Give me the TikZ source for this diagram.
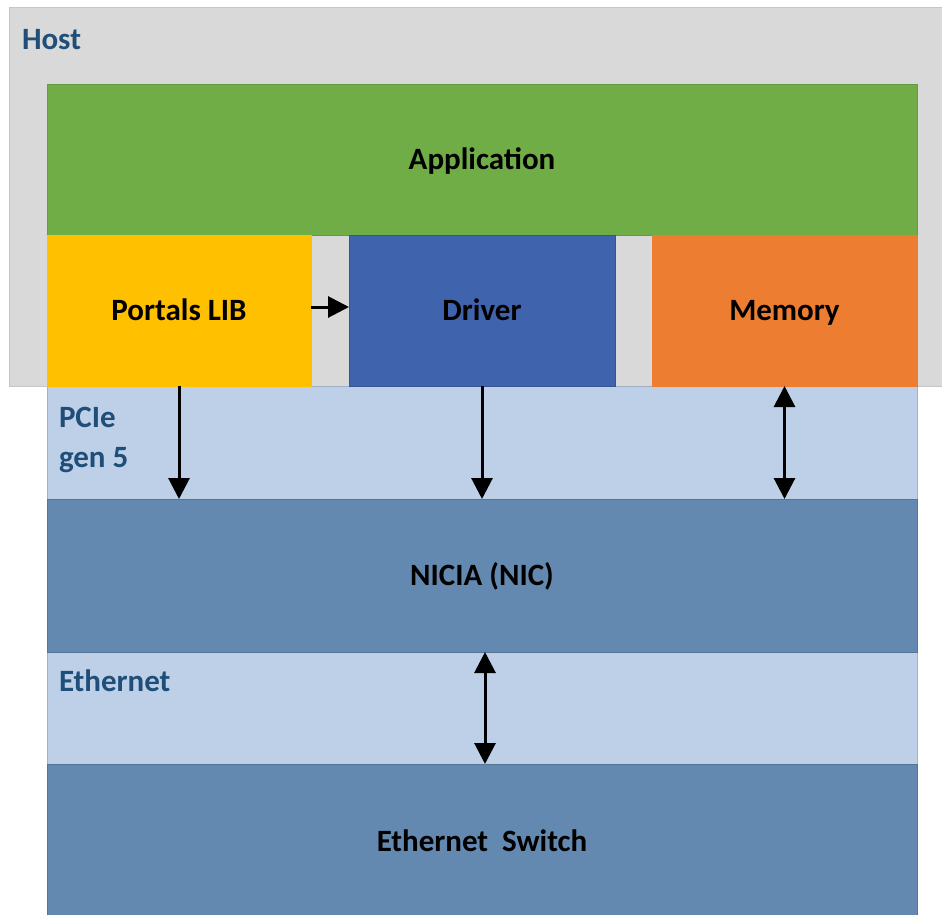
\documentclass[tikz,border=0pt]{standalone}
\usepackage{fontspec}
\setmainfont{Carlito}
\usetikzlibrary{arrows.meta}
\definecolor{hostgray}{HTML}{D9D9D9}
\definecolor{hostline}{HTML}{C6C6C6}
\definecolor{appgreen}{HTML}{70AD47}
\definecolor{libyellow}{HTML}{FFC000}
\definecolor{drvblue}{HTML}{3F63AC}
\definecolor{memorange}{HTML}{ED7D31}
\definecolor{bandblue}{HTML}{BDD0E8}
\definecolor{steelblue}{HTML}{6489B1}
\definecolor{labelblue}{HTML}{1F4E79}
\tikzset{
  block/.style={rectangle, inner sep=0pt, outer sep=0pt, line width=0.8pt,
    font=\fontsize{31}{37}\selectfont\bfseries, text=black,
    text height=19.8pt, text depth=0pt},
  band/.style={rectangle, inner sep=0pt, outer sep=0pt, line width=0.8pt},
  tag/.style={inner sep=0pt, outer sep=0pt, text=labelblue,
    font=\fontsize{31}{37}\selectfont\bfseries},
  arr/.style={line width=3pt, -{Triangle[width=21pt,length=21pt]}},
  darr/.style={line width=3pt, {Triangle[width=21pt,length=21pt]}-{Triangle[width=21pt,length=21pt]}}
}
\begin{document}
\begin{tikzpicture}[x=1pt,y=-1pt]
\useasboundingbox (0,0) rectangle (942,914);
\clip (0,0) rectangle (942,914);
% host enclosure
\node[band, fill=hostgray, draw=hostline, minimum width=938pt, minimum height=379pt] (host) at (478,196.5) {};
% interconnect bands
\node[band, fill=bandblue, draw=bandblue!85!black, minimum width=870pt, minimum height=113pt] (pcie) at (482,442.5) {};
\node[band, fill=bandblue, draw=bandblue!85!black, minimum width=870pt, minimum height=112pt] (eth) at (482,708) {};
% software and hardware blocks
\node[block, fill=appgreen, draw=appgreen!90!black, minimum width=870pt, minimum height=151pt] (app) at (482,159.5) {Application};
\node[block, fill=libyellow, draw=libyellow, minimum width=264pt, minimum height=151pt] (portals) at (179,310.5) {Portals LIB};
\node[block, fill=drvblue, draw=drvblue!85!black, minimum width=266pt, minimum height=151pt] (driver) at (482,310.5) {Driver};
\node[block, fill=memorange, draw=memorange, minimum width=265pt, minimum height=151pt] (memory) at (784.5,310.5) {Memory};
\node[block, fill=steelblue, draw=steelblue!85!black, minimum width=870pt, minimum height=153pt] (nic) at (482,575.5) {NICIA (NIC)};
\node[block, fill=steelblue, draw=steelblue!85!black, minimum width=870pt, minimum height=156pt] (switch) at (482,842) {Ethernet\ \ Switch};
% region labels
\node[tag, anchor=base west] (hostlbl) at (22,49) {Host};
\node[tag, anchor=base west] (pcielbl) at (59,427) {PCIe};
\node[tag, anchor=base west] (genlbl) at (59,467) {gen 5};
\node[tag, anchor=base west] (ethlbl) at (59,691) {Ethernet};
% connectors
\draw[arr] ([yshift=3.5pt]portals.east) -- ([yshift=3.5pt]driver.west);
\draw[arr] (portals.south) -- (portals.south |- nic.north);
\draw[arr] (driver.south) -- (driver.south |- nic.north);
\draw[darr] (memory.south) -- (memory.south |- nic.north);
\draw[darr] ([xshift=3pt]nic.south) -- ([xshift=3pt]switch.north);
\end{tikzpicture}
\end{document}
